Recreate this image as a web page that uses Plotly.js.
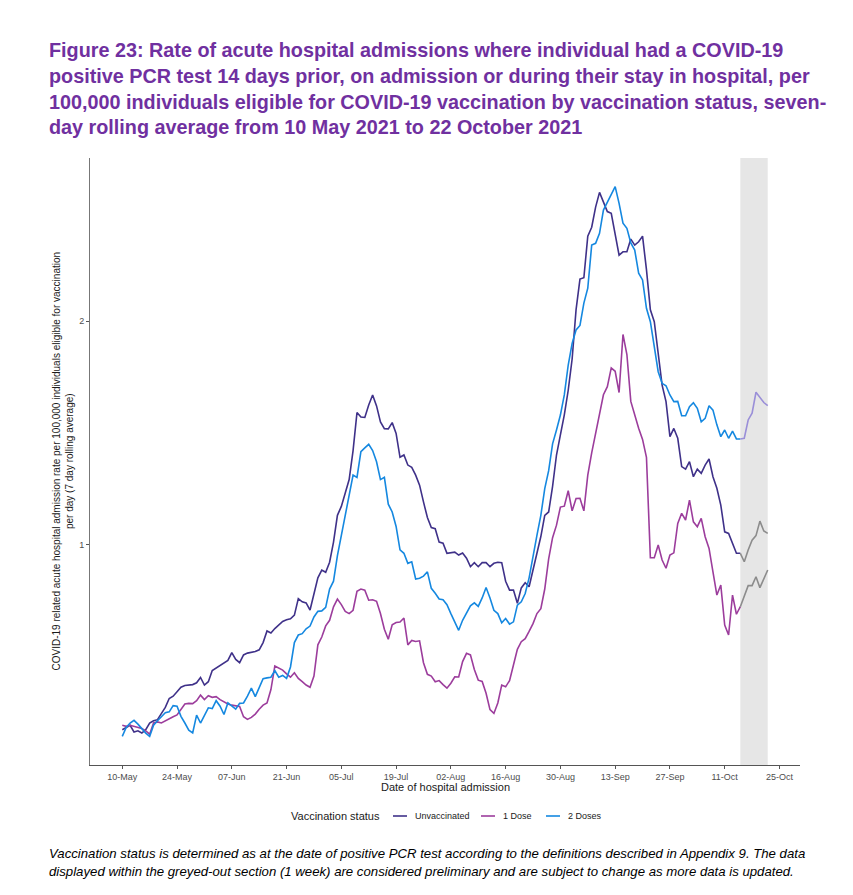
<!DOCTYPE html>
<html>
<head>
<meta charset="utf-8">
<script src="https://cdn.plot.ly/plotly-3.0.1.min.js"></script>
<style>
html,body{margin:0;padding:0;background:#fff;}
#chart{width:853px;height:895px;}
</style>
</head>
<body>
<div id="chart"></div>
<script>
// ---- data (daily, 10 May 2021 to 22 October 2021) ----
var startDate = '2021-05-10';
var provisionalFrom = '2021-10-15';
var provisionalTo = '2021-10-22';

var unvaccinated = [
0.17,0.18,0.19,0.16,0.165,0.155,0.17,0.2,0.21,0.215,
0.24,0.27,0.31,0.32,0.34,0.36,0.368,0.37,0.372,0.38,
0.404,0.37,0.385,0.435,0.447,0.46,0.47,0.48,0.515,0.485,
0.47,0.505,0.513,0.517,0.52,0.528,0.56,0.612,0.603,0.623,
0.638,0.655,0.662,0.667,0.683,0.757,0.743,0.738,0.706,0.785,
0.85,0.885,0.875,0.92,1.01,1.13,1.17,1.23,1.29,1.42,
1.59,1.57,1.568,1.624,1.669,1.62,1.548,1.518,1.517,1.545,
1.497,1.39,1.4,1.355,1.345,1.31,1.265,1.19,1.12,1.075,
1.07,1.01,1.005,0.96,0.963,0.965,0.952,0.961,0.938,0.9,
0.918,0.9,0.918,0.918,0.9,0.915,0.92,0.918,0.835,0.795,
0.795,0.736,0.805,0.828,0.81,0.885,0.965,1.035,1.13,1.145,
1.26,1.4,1.49,1.58,1.69,1.83,2.05,2.188,2.194,2.38,
2.42,2.51,2.576,2.535,2.49,2.482,2.39,2.295,2.31,2.31,
2.367,2.34,2.355,2.38,2.23,2.05,1.997,1.848,1.713,1.639,
1.482,1.519,1.475,1.348,1.337,1.37,1.303,1.337,1.318,1.355,
1.382,1.303,1.251,1.176,1.056,1.049,1.004,0.96,0.96,0.922,
0.975,1.019,1.039,1.104,1.06,1.049
];

var oneDose = [
0.19,0.185,0.19,0.185,0.18,0.175,0.165,0.15,0.2,0.205,
0.2,0.21,0.22,0.228,0.236,0.26,0.285,0.288,0.287,0.3,
0.325,0.305,0.322,0.315,0.318,0.305,0.295,0.285,0.28,0.276,
0.274,0.228,0.216,0.225,0.24,0.262,0.28,0.29,0.35,0.455,
0.445,0.437,0.42,0.405,0.425,0.4,0.385,0.37,0.36,0.41,
0.55,0.585,0.635,0.66,0.72,0.755,0.73,0.7,0.69,0.705,
0.79,0.8,0.795,0.75,0.752,0.745,0.69,0.62,0.575,0.64,
0.65,0.652,0.67,0.55,0.57,0.565,0.568,0.47,0.418,0.41,
0.385,0.39,0.372,0.356,0.378,0.407,0.406,0.475,0.512,0.505,
0.44,0.392,0.386,0.333,0.26,0.243,0.29,0.37,0.362,0.39,
0.46,0.53,0.564,0.578,0.61,0.645,0.69,0.712,0.8,0.935,
1.03,1.086,1.167,1.171,1.24,1.15,1.205,1.206,1.15,1.31,
1.41,1.5,1.587,1.67,1.706,1.79,1.775,1.68,1.94,1.85,
1.64,1.575,1.52,1.47,1.39,0.94,0.94,0.997,0.93,0.893,
0.952,0.962,1.094,1.139,1.109,1.198,1.101,1.079,1.116,1.034,
0.982,0.877,0.773,0.818,0.639,0.594,0.773,0.687,0.721,0.766,
0.815,0.815,0.855,0.806,0.848,0.885
];

var twoDoses = [
0.14,0.18,0.2,0.212,0.195,0.175,0.155,0.14,0.19,0.21,
0.23,0.246,0.25,0.278,0.275,0.23,0.2,0.168,0.156,0.235,
0.2,0.235,0.268,0.265,0.3,0.275,0.238,0.29,0.275,0.262,
0.288,0.29,0.32,0.356,0.318,0.36,0.398,0.402,0.405,0.435,
0.405,0.413,0.4,0.451,0.56,0.594,0.6,0.622,0.634,0.675,
0.7,0.702,0.718,0.8,0.835,0.95,1.04,1.14,1.23,1.31,
1.3,1.415,1.432,1.448,1.42,1.37,1.29,1.3,1.18,1.145,
1.08,0.975,0.96,0.915,0.922,0.845,0.848,0.858,0.877,0.803,
0.781,0.755,0.752,0.73,0.69,0.65,0.615,0.66,0.695,0.725,
0.738,0.722,0.76,0.807,0.76,0.705,0.69,0.649,0.668,0.643,
0.653,0.728,0.743,0.78,0.85,0.95,1.04,1.13,1.25,1.33,
1.45,1.512,1.579,1.669,1.803,1.9,1.96,1.98,2.08,2.147,
2.34,2.348,2.393,2.497,2.534,2.572,2.602,2.527,2.438,2.415,
2.35,2.318,2.214,2.184,2.057,1.997,1.878,1.773,1.721,1.71,
1.669,1.639,1.64,1.576,1.576,1.616,1.634,1.609,1.549,1.564,
1.621,1.601,1.535,1.482,1.512,1.475,1.507,1.472,1.472,1.475,
1.557,1.587,1.681,1.657,1.635,1.621
];

var seriesNames = ['Unvaccinated', '1 Dose', '2 Doses'];
var tickDates = ['2021-05-10','2021-05-24','2021-06-07','2021-06-21','2021-07-05','2021-07-19',
  '2021-08-02','2021-08-16','2021-08-30','2021-09-13','2021-09-27','2021-10-11','2021-10-25'];
var tickLabels = ['10-May','24-May','07-Jun','21-Jun','05-Jul','19-Jul','02-Aug','16-Aug',
  '30-Aug','13-Sep','27-Sep','11-Oct','25-Oct'];
var yTickVals = [1, 2];

// ---- build ----
var dates = [];
var t0 = Date.parse(startDate + 'T00:00:00Z');
for (var i = 0; i < unvaccinated.length; i++) {
  dates.push(new Date(t0 + i * 86400000).toISOString().slice(0, 10));
}
var cut = dates.indexOf(provisionalFrom);

var colours = ['#3f3189', '#9c3d9c', '#1588e0'];
var provColours = ['#8c8c8c', '#8c8c8c', '#9a8fd8'];
var allSeries = [unvaccinated, oneDose, twoDoses];

var traces = [];
allSeries.forEach(function (s, k) {
  traces.push({
    x: dates.slice(0, cut + 1), y: s.slice(0, cut + 1),
    type: 'scatter', mode: 'lines', name: seriesNames[k], showlegend: false,
    line: {color: colours[k], width: 1.6}
  });
});
allSeries.forEach(function (s, k) {
  traces.push({
    x: dates.slice(cut), y: s.slice(cut),
    type: 'scatter', mode: 'lines', showlegend: false, hoverinfo: 'skip',
    line: {color: provColours[k], width: 1.6}
  });
});

var L = 90, R = 800, T = 158, B = 765;
function px(x) { return (x - L) / (R - L); }
function py(y) { return (B - y) / (B - T); }

var FONT = 'Liberation Sans, Arial, Helvetica, sans-serif';
var titleLines = [
  'Figure 23: Rate of acute hospital admissions where individual had a COVID-19',
  'positive PCR test 14 days prior, on admission or during their stay in hospital, per',
  '100,000 individuals eligible for COVID-19 vaccination by vaccination status, seven-',
  'day rolling average from 10 May 2021 to 22 October 2021'
];
var footLines = [
  'Vaccination status is determined as at the date of positive PCR test according to the definitions described in Appendix 9. The data',
  'displayed within the greyed-out section (1 week) are considered preliminary and are subject to change as more data is updated.'
];

var annotations = [];
var shapes = [{
  type: 'rect', xref: 'x', yref: 'paper', x0: provisionalFrom, x1: provisionalTo,
  y0: 0, y1: 1, fillcolor: '#e6e6e6', line: {width: 0}, layer: 'below'
}];

titleLines.forEach(function (t, i) {
  annotations.push({
    text: '<b>' + t + '</b>', xref: 'paper', yref: 'paper',
    x: px(47), y: py(50 + i * 25.8), xanchor: 'left', yanchor: 'middle',
    showarrow: false, font: {family: FONT, size: 19.8, color: '#7030a0'}
  });
});
footLines.forEach(function (t, i) {
  annotations.push({
    text: '<i>' + t + '</i>', xref: 'paper', yref: 'paper',
    x: px(47), y: py(853 + i * 18), xanchor: 'left', yanchor: 'middle',
    showarrow: false, font: {family: FONT, size: 13.2, color: '#000'}
  });
});
annotations.push({
  text: 'COVID-19 related acute hospital admission rate per 100,000 individuals eligible for vaccination<br>per day (7 day rolling average)',
  xref: 'paper', yref: 'paper', x: px(62), y: 0.5, xanchor: 'center', yanchor: 'middle',
  textangle: -90, showarrow: false, font: {family: FONT, size: 10, color: '#1a1a1a'}
});
annotations.push({
  text: 'Date of hospital admission', xref: 'paper', yref: 'paper',
  x: 0.5, y: py(787), xanchor: 'center', yanchor: 'middle', showarrow: false,
  font: {family: FONT, size: 11, color: '#1a1a1a'}
});

// legend (drawn as keys + labels, styled like the reference)
var legendY = py(816);
annotations.push({
  text: 'Vaccination status', xref: 'paper', yref: 'paper',
  x: px(289), y: legendY, xanchor: 'left', yanchor: 'middle', showarrow: false,
  font: {family: FONT, size: 11, color: '#1a1a1a'}
});
var keyX = [393, 481, 546];
seriesNames.forEach(function (n, k) {
  shapes.push({
    type: 'line', xref: 'paper', yref: 'paper',
    x0: px(keyX[k]), x1: px(keyX[k] + 14), y0: legendY, y1: legendY,
    line: {color: colours[k], width: 1.6}
  });
  annotations.push({
    text: n, xref: 'paper', yref: 'paper',
    x: px(keyX[k] + 20), y: legendY, xanchor: 'left', yanchor: 'middle', showarrow: false,
    font: {family: FONT, size: 9, color: '#1a1a1a'}
  });
});

var layout = {
  width: 853, height: 895,
  margin: {l: L, r: 853 - R, t: T, b: 895 - B, autoexpand: false},
  paper_bgcolor: '#fff', plot_bgcolor: '#fff',
  showlegend: false,
  font: {family: FONT},
  xaxis: {
    type: 'date', range: ['2021-05-01 18:00', '2021-10-30 06:00'],
    tickvals: tickDates, ticktext: tickLabels,
    tickfont: {family: FONT, size: 9, color: '#4d4d4d'},
    ticks: 'outside', ticklen: 3, tickcolor: '#555', tickwidth: 1,
    showline: true, linecolor: '#555', linewidth: 1,
    showgrid: false, zeroline: false, fixedrange: true
  },
  yaxis: {
    range: [0.012, 2.73], tickvals: yTickVals, ticktext: ['1', '2'],
    tickfont: {family: FONT, size: 9, color: '#4d4d4d'},
    ticks: 'outside', ticklen: 3, tickcolor: '#555', tickwidth: 1,
    showline: true, linecolor: '#777', linewidth: 1,
    showgrid: false, zeroline: false, fixedrange: true
  },
  shapes: shapes,
  annotations: annotations
};

Plotly.newPlot('chart', traces, layout, {displayModeBar: false, staticPlot: true});
</script>
</body>
</html>
